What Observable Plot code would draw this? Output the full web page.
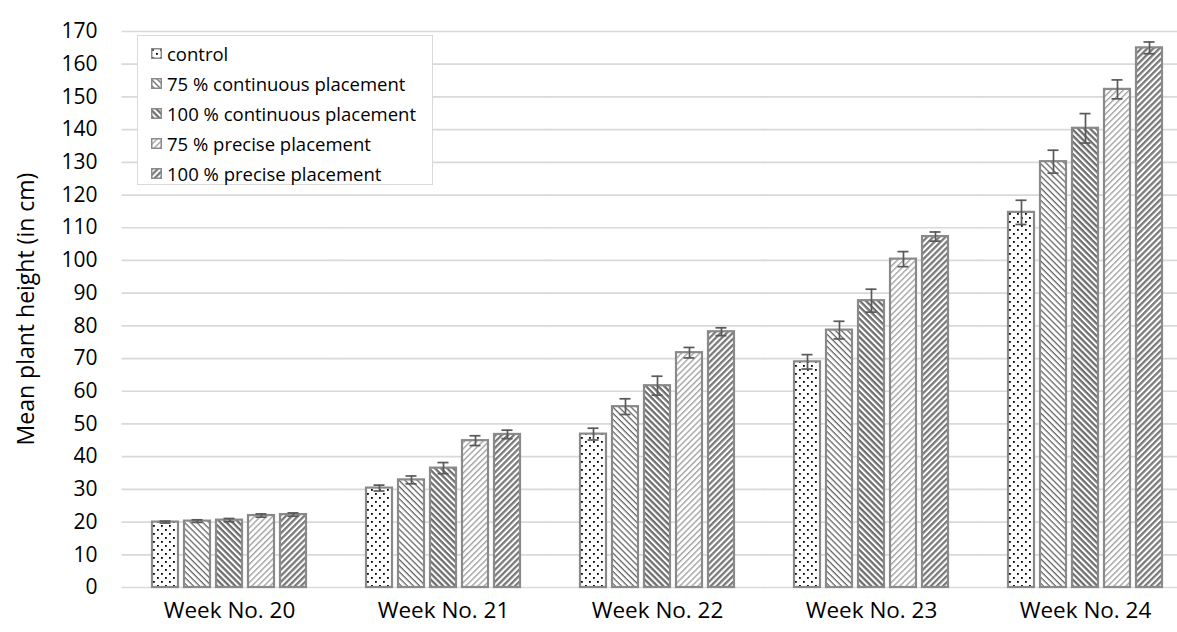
<!DOCTYPE html>
<html>
<head>
<meta charset="utf-8">
<script src="https://cdn.jsdelivr.net/npm/d3@7"></script>
<script src="https://cdn.jsdelivr.net/npm/@observablehq/plot@0.6"></script>
<style>
  html, body { margin: 0; padding: 0; background: #fff; }
  #wrap { position: relative; width: 1177px; height: 632px; overflow: hidden; font-family: "Open Sans", sans-serif; }
  #legend { position: absolute; left: 137px; top: 35px; width: 296px; height: 150px; box-sizing: border-box;
            border: 1px solid #d9d9d9; background: #fff; padding-top: 2px; }
  .row { display: flex; align-items: center; height: 30px; font-size: 18.5px; color: #000; white-space: nowrap; }
  .row svg { margin-left: 13px; margin-right: 5px; flex: none; }
</style>
</head>
<body>
<svg width="0" height="0" style="position:absolute">
  <defs>
    <pattern id="pat0" patternUnits="userSpaceOnUse" width="8" height="8">
      <rect width="8" height="8" fill="#fff"/>
      <rect x="1" y="1" width="1.8" height="1.8" fill="#000"/>
      <rect x="5" y="5" width="1.8" height="1.8" fill="#000"/>
    </pattern>
    <pattern id="pat1" patternUnits="userSpaceOnUse" width="4.3" height="4.3" patternTransform="rotate(45)">
      <rect width="4.3" height="4.3" fill="#fff"/>
      <rect y="0" width="4.3" height="1.3" fill="#666"/>
    </pattern>
    <pattern id="pat2" patternUnits="userSpaceOnUse" width="4.3" height="4.3" patternTransform="rotate(45)">
      <rect width="4.3" height="4.3" fill="#fff"/>
      <rect y="0" width="4.3" height="2.3" fill="#6e6e6e"/>
    </pattern>
    <pattern id="pat3" patternUnits="userSpaceOnUse" width="4.3" height="4.3" patternTransform="rotate(-45)">
      <rect width="4.3" height="4.3" fill="#fff"/>
      <rect y="0" width="4.3" height="1.4" fill="#a3a3a3"/>
    </pattern>
    <pattern id="pat4" patternUnits="userSpaceOnUse" width="4.3" height="4.3" patternTransform="rotate(-45)">
      <rect width="4.3" height="4.3" fill="#fff"/>
      <rect y="0" width="4.3" height="2.3" fill="#7a7a7a"/>
    </pattern>
  </defs>
</svg>
<div id="wrap">
  <div id="chart"></div>
  <div id="legend"></div>
</div>
<script>
// ---- data ----
const weeks = ["Week No. 20", "Week No. 21", "Week No. 22", "Week No. 23", "Week No. 24"];
const treatments = [
  "control",
  "75 % continuous placement",
  "100 % continuous placement",
  "75 % precise placement",
  "100 % precise placement"
];
const controlMean   = [20.0, 30.4, 46.9, 69.0, 114.7];
const cont75Mean    = [20.3, 32.9, 55.3, 78.7, 130.2];
const cont100Mean   = [20.6, 36.5, 61.7, 87.7, 140.4];
const precise75Mean = [22.0, 44.9, 71.8, 100.4, 152.3];
const precise100Mean= [22.3, 46.8, 78.2, 107.3, 165.0];
const controlErr    = [0.3, 0.9, 1.8, 2.2, 3.7];
const cont75Err     = [0.4, 1.2, 2.4, 2.7, 3.5];
const cont100Err    = [0.5, 1.7, 2.9, 3.5, 4.5];
const precise75Err  = [0.5, 1.5, 1.6, 2.3, 2.9];
const precise100Err = [0.5, 1.3, 1.2, 1.4, 1.8];
const yTicks = [0, 10, 20, 30, 40, 50, 60, 70, 80, 90, 100, 110, 120, 130, 140, 150, 160, 170];

const means = [controlMean, cont75Mean, cont100Mean, precise75Mean, precise100Mean];
const errs = [controlErr, cont75Err, cont100Err, precise75Err, precise100Err];
const fills = {};
treatments.forEach((t, j) => fills[t] = `url(#pat${j})`);

const data = weeks.flatMap((w, i) => treatments.map((t, j) => ({
  week: w, treatment: t, value: means[j][i], err: errs[j][i]
})));

const chart = Plot.plot({
  width: 1177,
  height: 632,
  marginLeft: 122,
  marginRight: -15,
  marginTop: 31,
  marginBottom: 45,
  style: { fontFamily: "'Open Sans', sans-serif", fontSize: "22.5px", color: "#000", background: "transparent" },
  fx: { domain: weeks, paddingInner: 0.26, paddingOuter: 0.13, label: null, axis: "bottom", tickSize: 0, tickPadding: 15 },
  x: { domain: treatments, paddingInner: 0.18, paddingOuter: 0, axis: null },
  y: { domain: [0, 170], axis: null },
  color: { type: "identity" },
  marks: [
    Plot.ruleY(yTicks, { stroke: "#d9d9d9", strokeWidth: 1.7, insetLeft: -28.5, insetRight: -28.5 }),
    Plot.axisY(yTicks, { tickSize: 0, tickPadding: 53, label: null, fontSize: 21 }),
    Plot.barY(data, { fx: "week", x: "treatment", y: "value", fill: d => fills[d.treatment], stroke: "#8a8a8a", strokeWidth: 2.2 }),
    Plot.ruleX(data, { fx: "week", x: "treatment", y1: d => d.value - d.err, y2: d => d.value + d.err, stroke: "#595959", strokeWidth: 1.7 }),
    Plot.tickY(data, { fx: "week", x: "treatment", y: d => d.value + d.err, stroke: "#595959", strokeWidth: 1.7, insetLeft: 7.5, insetRight: 7.5 }),
    Plot.tickY(data, { fx: "week", x: "treatment", y: d => d.value - d.err, stroke: "#595959", strokeWidth: 1.7, insetLeft: 7.5, insetRight: 7.5 })
  ]
});
document.getElementById("chart").appendChild(chart);

// y-axis title
const svg = d3.select(chart);
svg.append("text")
  .attr("transform", `translate(25, ${(31 + 587) / 2}) rotate(-90)`)
  .attr("text-anchor", "middle")
  .attr("dominant-baseline", "central")
  .attr("fill", "#000")
  .style("font-size", "23px")
  .text("Mean plant height (in cm)");

// legend
const legend = d3.select("#legend");
treatments.forEach((t, j) => {
  const row = legend.append("div").attr("class", "row");
  const s = row.append("svg").attr("width", 11).attr("height", 11);
  s.append("rect").attr("x", 0.75).attr("y", 0.75).attr("width", 9.5).attr("height", 9.5)
    .attr("fill", fills[t]).attr("stroke", "#8a8a8a").attr("stroke-width", 1.5);
  row.append("span").text(t);
});
</script>
</body>
</html>
